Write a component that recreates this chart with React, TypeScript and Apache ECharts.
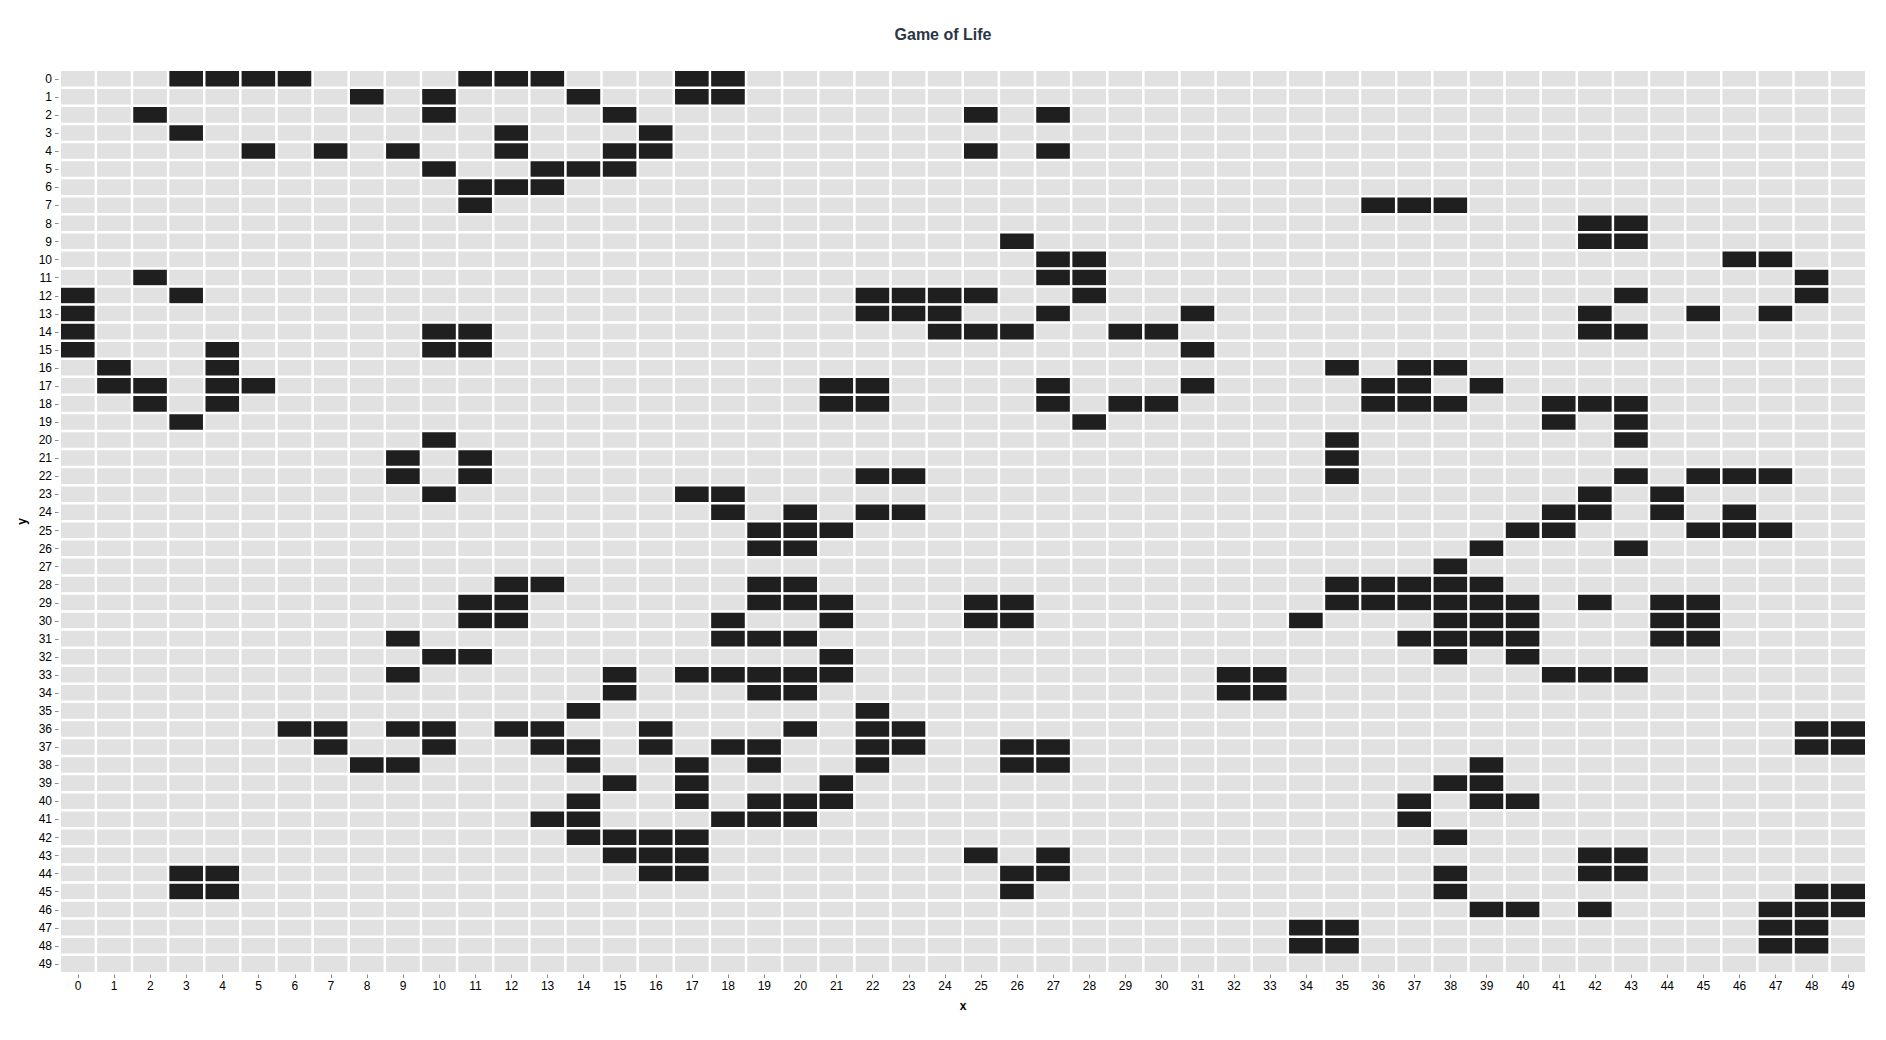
import React, { useEffect, useRef } from "react";
import * as echarts from "echarts";

const xCategories: string[] = Array.from({ length: 50 }, (_, i) => String(i));
const yCategories: string[] = Array.from({ length: 50 }, (_, i) => String(i));

// alive cells: for each y row (0..49), the list of x columns that are alive
const aliveByRow: number[][] = [
  [3, 4, 5, 6, 11, 12, 13, 17, 18], // 0
  [8, 10, 14, 17, 18], // 1
  [2, 10, 15, 25, 27], // 2
  [3, 12, 16], // 3
  [5, 7, 9, 12, 15, 16, 25, 27], // 4
  [10, 13, 14, 15], // 5
  [11, 12, 13], // 6
  [11, 36, 37, 38], // 7
  [42, 43], // 8
  [26, 42, 43], // 9
  [27, 28, 46, 47], // 10
  [2, 27, 28, 48], // 11
  [0, 3, 22, 23, 24, 25, 28, 43, 48], // 12
  [0, 22, 23, 24, 27, 31, 42, 45, 47], // 13
  [0, 10, 11, 24, 25, 26, 29, 30, 42, 43], // 14
  [0, 4, 10, 11, 31], // 15
  [1, 4, 35, 37, 38], // 16
  [1, 2, 4, 5, 21, 22, 27, 31, 36, 37, 39], // 17
  [2, 4, 21, 22, 27, 29, 30, 36, 37, 38, 41, 42, 43], // 18
  [3, 28, 41, 43], // 19
  [10, 35, 43], // 20
  [9, 11, 35], // 21
  [9, 11, 22, 23, 35, 43, 45, 46, 47], // 22
  [10, 17, 18, 42, 44], // 23
  [18, 20, 22, 23, 41, 42, 44, 46], // 24
  [19, 20, 21, 40, 41, 45, 46, 47], // 25
  [19, 20, 39, 43], // 26
  [38], // 27
  [12, 13, 19, 20, 35, 36, 37, 38, 39], // 28
  [11, 12, 19, 20, 21, 25, 26, 35, 36, 37, 38, 39, 40, 42, 44, 45], // 29
  [11, 12, 18, 21, 25, 26, 34, 38, 39, 40, 44, 45], // 30
  [9, 18, 19, 20, 37, 38, 39, 40, 44, 45], // 31
  [10, 11, 21, 38, 40], // 32
  [9, 15, 17, 18, 19, 20, 21, 32, 33, 41, 42, 43], // 33
  [15, 19, 20, 32, 33], // 34
  [14, 22], // 35
  [6, 7, 9, 10, 12, 13, 16, 20, 22, 23, 48, 49], // 36
  [7, 10, 13, 14, 16, 18, 19, 22, 23, 26, 27, 48, 49], // 37
  [8, 9, 14, 17, 19, 22, 26, 27, 39], // 38
  [15, 17, 21, 38, 39], // 39
  [14, 17, 19, 20, 21, 37, 39, 40], // 40
  [13, 14, 18, 19, 20, 37], // 41
  [14, 15, 16, 17, 38], // 42
  [15, 16, 17, 25, 27, 42, 43], // 43
  [3, 4, 16, 17, 26, 27, 38, 42, 43], // 44
  [3, 4, 26, 38, 48, 49], // 45
  [39, 40, 42, 47, 48, 49], // 46
  [34, 35, 47, 48], // 47
  [34, 35, 47, 48], // 48
  [], // 49
];

export default function App() {
  const ref = useRef<HTMLDivElement>(null);

  useEffect(() => {
    if (!ref.current) return;
    const chart = echarts.init(ref.current, undefined, { renderer: "svg" });

    const data: number[][] = [];
    for (let y = 0; y < yCategories.length; y++) {
      const alive = new Set(aliveByRow[y] || []);
      for (let x = 0; x < xCategories.length; x++) {
        data.push([x, y, alive.has(x) ? 1 : 0]);
      }
    }

    const font = "'Liberation Sans', Arial, sans-serif";

    chart.setOption({
      animation: false,
      backgroundColor: "#ffffff",
      title: {
        text: "Game of Life",
        left: "center",
        top: 21,
        textStyle: {
          fontFamily: font,
          fontSize: 16,
          fontWeight: "bold",
          color: "#2b3645",
        },
      },
      grid: { left: 60, right: 20, top: 70, bottom: 67, containLabel: false },
      xAxis: {
        type: "category",
        data: xCategories,
        name: "x",
        nameLocation: "middle",
        nameGap: 27,
        nameTextStyle: { fontFamily: font, fontSize: 12, fontWeight: "bold", color: "#000" },
        axisLine: { show: true, lineStyle: { color: "#888", width: 1 } },
        axisTick: { show: true, alignWithLabel: true, length: 5, lineStyle: { color: "#888" } },
        axisLabel: { fontFamily: font, fontSize: 12, color: "#000", margin: 7, interval: 0 },
        splitLine: { show: false },
        splitArea: { show: false },
      },
      yAxis: {
        type: "category",
        data: yCategories,
        inverse: true,
        name: "y",
        nameLocation: "middle",
        nameGap: 29,
        nameRotate: 90,
        nameTextStyle: { fontFamily: font, fontSize: 12, fontWeight: "bold", color: "#000" },
        axisLine: { show: true, lineStyle: { color: "#888", width: 1 } },
        axisTick: { show: true, alignWithLabel: true, length: 5, lineStyle: { color: "#888" } },
        axisLabel: { fontFamily: font, fontSize: 12, color: "#000", margin: 8, interval: 0 },
        splitLine: { show: false },
        splitArea: { show: false },
      },
      visualMap: {
        show: false,
        type: "piecewise",
        dimension: 2,
        pieces: [
          { value: 0, color: "#e1e1e1" },
          { value: 1, color: "#1f1f1f" },
        ],
      },
      series: [
        {
          type: "heatmap",
          data,
          itemStyle: { borderColor: "#ffffff", borderWidth: 2.5 },
          emphasis: { disabled: true },
        },
      ],
    });

    return () => chart.dispose();
  }, []);

  return (
    <div
      ref={ref}
      style={{ position: "fixed", left: 0, top: 0, width: 1886, height: 1040 }}
    />
  );
}
